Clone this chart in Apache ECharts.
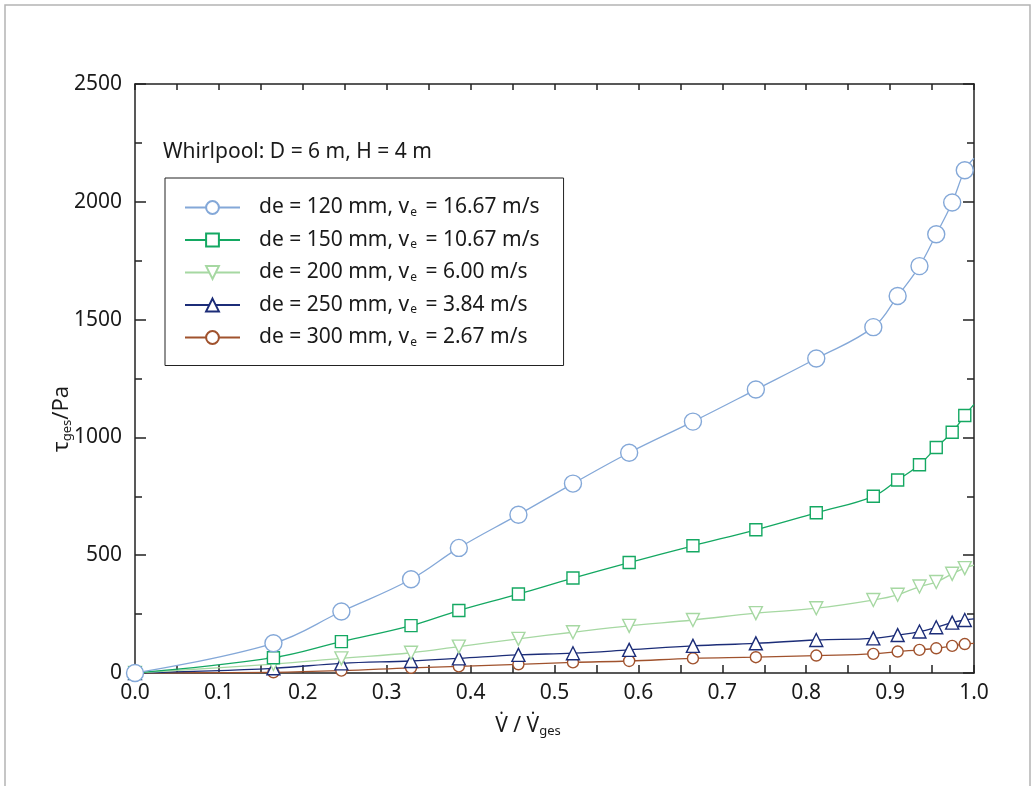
<!DOCTYPE html>
<html>
<head>
<meta charset="utf-8">
<script src="https://cdn.jsdelivr.net/npm/echarts@6/dist/echarts.min.js"></script>
<style>
html,body{margin:0;padding:0;background:#fff;}
#chart{width:1033px;height:786px;}
</style>
</head>
<body>
<div id="chart"></div>
<script>
// ---- data ----
var flowRatio = [0, 0.165, 0.246, 0.329, 0.386, 0.457, 0.522, 0.589, 0.665, 0.740, 0.812, 0.880, 0.909, 0.935, 0.955, 0.974, 0.989, 1.0];
var tau120 = [0, 126, 261, 398, 531, 672, 804, 935, 1067, 1203, 1335, 1468, 1600, 1727, 1862, 1997, 2134, 2185];
var tau150 = [0, 65, 133, 201, 265, 335, 403, 469, 540, 608, 680, 750, 819, 884, 957, 1022, 1093, 1140];
var tau200 = [0, 38, 62, 86, 112, 145, 173, 200, 225, 254, 275, 310, 332, 367, 386, 421, 445, 458];
var tau250 = [0, 20, 41, 51, 62, 77, 84, 98, 115, 126, 140, 147, 161, 176, 194, 214, 225, 230];
var tau300 = [0, 3, 10, 22, 28, 37, 45, 51, 62, 67, 74, 81, 91, 98, 105, 115, 123, 126];
var seriesNames = [
  'de = 120 mm, ve = 16.67 m/s',
  'de = 150 mm, ve = 10.67 m/s',
  'de = 200 mm, ve = 6.00 m/s',
  'de = 250 mm, ve = 3.84 m/s',
  'de = 300 mm, ve = 2.67 m/s'
];
var annotation = 'Whirlpool: D = 6 m, H = 4 m';

var FONT = 'Noto Sans';
var TXT = '#1a1a1a';
var FS = 21;

function pairs(ys) {
  return flowRatio.map(function (x, i) {
    var item = { value: [x, ys[i]] };
    if (i === flowRatio.length - 1) item.symbol = 'none';
    return item;
  });
}

var styles = [
  { color: '#84a8d8', symbol: 'circle', size: 17, rotate: 0 },
  { color: '#14a862', symbol: 'rect', size: 12, rotate: 0 },
  { color: '#a6d8a2', symbol: 'triangle', size: 13, rotate: 180 },
  { color: '#1c2d78', symbol: 'triangle', size: 13, rotate: 0 },
  { color: '#a0522d', symbol: 'circle', size: 11, rotate: 0 }
];
var allData = [tau120, tau150, tau200, tau250, tau300];

var series = allData.map(function (ys, k) {
  var s = styles[k];
  return {
    name: seriesNames[k],
    type: 'line',
    data: pairs(ys),
    smooth: 0.4,
    symbol: s.symbol,
    symbolSize: s.size,
    symbolRotate: s.rotate,
    showAllSymbol: true,
    clip: true,
    lineStyle: { color: s.color, width: 1.3 },
    itemStyle: { color: '#ffffff', borderColor: s.color, borderWidth: 1.4 },
    emphasis: { disabled: true },
    z: 10 - k
  };
});

var chart = echarts.init(document.getElementById('chart'), null, { renderer: 'canvas' });

var axisLineStyle = { color: '#222', width: 1.5 };

chart.setOption({
  animation: false,
  backgroundColor: '#ffffff',
  textStyle: { fontFamily: FONT, color: TXT },
  grid: { left: 135, right: 59, top: 84, bottom: 113, containLabel: false },
  legend: {
    orient: 'vertical',
    left: 165,
    top: 178,
    padding: [19, 24, 17, 19],
    borderColor: '#222',
    borderWidth: 1,
    itemWidth: 55,
    itemHeight: 16,
    itemGap: 11,
    selectedMode: false,
    data: seriesNames,
    formatter: function (name) {
      return '{t|' + name.replace('ve =', 'v}{s|e}{t| =') + '}';
    },
    textStyle: {
      fontFamily: FONT,
      color: TXT,
      padding: [0, 0, 0, 14],
      rich: {
        t: { fontSize: FS, lineHeight: 22, fontFamily: FONT, color: TXT },
        s: { fontSize: 12, lineHeight: 12, verticalAlign: 'bottom', fontFamily: FONT, color: TXT, padding: [0, 3, 0, 1] }
      }
    }
  },
  xAxis: [
    {
      type: 'value', position: 'bottom', min: 0, max: 1, interval: 0.05,
      axisLine: { show: true, onZero: false, lineStyle: axisLineStyle },
      axisTick: { show: true, inside: true, length: 8, lineStyle: axisLineStyle },
      axisLabel: {
        show: true, interval: 0, margin: 10, fontSize: FS, fontFamily: FONT, color: TXT,
        formatter: function (v) {
          var t = Math.round(v * 100);
          return t % 10 === 0 ? (v).toFixed(1) : '';
        }
      },
      splitLine: { show: false }
    },
    {
      type: 'value', position: 'top', min: 0, max: 1, interval: 0.05,
      axisLine: { show: true, onZero: false, lineStyle: axisLineStyle },
      axisTick: { show: true, inside: true, length: 6, lineStyle: axisLineStyle },
      axisLabel: { show: false },
      splitLine: { show: false }
    }
  ],
  yAxis: [
    {
      type: 'value', position: 'left', min: 0, max: 2500, interval: 500,
      axisLine: { show: true, onZero: false, lineStyle: axisLineStyle },
      axisTick: { show: true, inside: true, length: 11, lineStyle: axisLineStyle },
      minorTick: { show: true, splitNumber: 2, length: 7, lineStyle: axisLineStyle },
      axisLabel: {
        show: true, margin: 13, fontSize: FS, fontFamily: FONT, color: TXT,
        formatter: function (v) { return String(v); }
      },
      splitLine: { show: false }
    },
    {
      type: 'value', position: 'right', min: 0, max: 2500, interval: 500,
      axisLine: { show: true, onZero: false, lineStyle: axisLineStyle },
      axisTick: { show: true, inside: true, length: 11, lineStyle: axisLineStyle },
      minorTick: { show: true, splitNumber: 2, length: 7, lineStyle: axisLineStyle },
      axisLabel: { show: false },
      splitLine: { show: false }
    }
  ],
  graphic: [
    {
      type: 'rect', silent: true, z: -10,
      shape: { x: 5, y: 5, width: 1025, height: 820 },
      style: { fill: 'none', stroke: '#b4b4b4', lineWidth: 1.5 }
    },
    {
      type: 'text', silent: true, x: 163, y: 152,
      style: {
        text: annotation, fontSize: FS, fontFamily: FONT, fill: TXT,
        verticalAlign: 'middle', align: 'left'
      }
    },
    {
      type: 'text', silent: true, x: 62, y: 419, rotation: Math.PI / 2,
      style: {
        text: '{a|τ}{b|ges}{a|/Pa}',
        align: 'center', verticalAlign: 'middle', fill: TXT,
        rich: {
          a: { fontSize: 22, lineHeight: 24, fontFamily: FONT, fill: TXT },
          b: { fontSize: 13, lineHeight: 13, verticalAlign: 'bottom', fontFamily: FONT, fill: TXT }
        }
      }
    },
    {
      type: 'text', silent: true, x: 528, y: 726,
      style: {
        text: '{a|V\u0307 / V\u0307}{b|ges}',
        align: 'center', verticalAlign: 'middle', fill: TXT,
        rich: {
          a: { fontSize: FS, lineHeight: 24, fontFamily: FONT, fill: TXT },
          b: { fontSize: 13, lineHeight: 13, verticalAlign: 'bottom', fontFamily: FONT, fill: TXT }
        }
      }
    }
  ],
  series: series
});
</script>
</body>
</html>
